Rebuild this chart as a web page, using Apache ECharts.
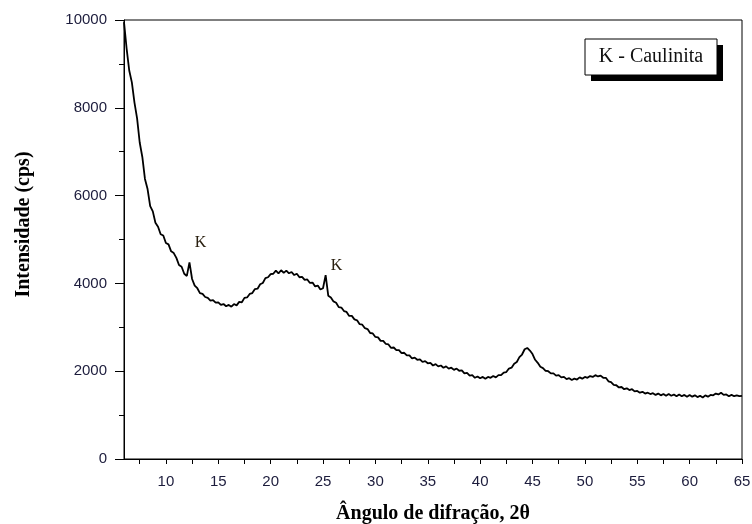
<!DOCTYPE html>
<html>
<head>
<meta charset="utf-8">
<script src="https://cdn.jsdelivr.net/npm/echarts@6/dist/echarts.min.js"></script>
<style>
html, body { margin: 0; padding: 0; background: #fff; }
#chart { width: 752px; height: 524px; }
</style>
</head>
<body>
<div id="chart"></div>
<script>
// angulo 2theta (passo 0.25)
var angulos = [
	6, 6.25, 6.5, 6.75, 7, 7.25, 7.5, 7.75, 8, 8.25, 8.5, 8.75, 9, 9.25, 9.5, 9.75,
	10, 10.25, 10.5, 10.75, 11, 11.25, 11.5, 11.75, 12, 12.25, 12.5, 12.75, 13, 13.25, 13.5, 13.75,
	14, 14.25, 14.5, 14.75, 15, 15.25, 15.5, 15.75, 16, 16.25, 16.5, 16.75, 17, 17.25, 17.5, 17.75,
	18, 18.25, 18.5, 18.75, 19, 19.25, 19.5, 19.75, 20, 20.25, 20.5, 20.75, 21, 21.25, 21.5, 21.75,
	22, 22.25, 22.5, 22.75, 23, 23.25, 23.5, 23.75, 24, 24.25, 24.5, 24.75, 25, 25.25, 25.5, 25.75,
	26, 26.25, 26.5, 26.75, 27, 27.25, 27.5, 27.75, 28, 28.25, 28.5, 28.75, 29, 29.25, 29.5, 29.75,
	30, 30.25, 30.5, 30.75, 31, 31.25, 31.5, 31.75, 32, 32.25, 32.5, 32.75, 33, 33.25, 33.5, 33.75,
	34, 34.25, 34.5, 34.75, 35, 35.25, 35.5, 35.75, 36, 36.25, 36.5, 36.75, 37, 37.25, 37.5, 37.75,
	38, 38.25, 38.5, 38.75, 39, 39.25, 39.5, 39.75, 40, 40.25, 40.5, 40.75, 41, 41.25, 41.5, 41.75,
	42, 42.25, 42.5, 42.75, 43, 43.25, 43.5, 43.75, 44, 44.25, 44.5, 44.75, 45, 45.25, 45.5, 45.75,
	46, 46.25, 46.5, 46.75, 47, 47.25, 47.5, 47.75, 48, 48.25, 48.5, 48.75, 49, 49.25, 49.5, 49.75,
	50, 50.25, 50.5, 50.75, 51, 51.25, 51.5, 51.75, 52, 52.25, 52.5, 52.75, 53, 53.25, 53.5, 53.75,
	54, 54.25, 54.5, 54.75, 55, 55.25, 55.5, 55.75, 56, 56.25, 56.5, 56.75, 57, 57.25, 57.5, 57.75,
	58, 58.25, 58.5, 58.75, 59, 59.25, 59.5, 59.75, 60, 60.25, 60.5, 60.75, 61, 61.25, 61.5, 61.75,
	62, 62.25, 62.5, 62.75, 63, 63.25, 63.5, 63.75, 64, 64.25, 64.5, 64.75, 65
];
var intensidade = [
	9950, 9350, 8850, 8580, 8120, 7760, 7210, 6880, 6380, 6150, 5760, 5640, 5380, 5290, 5120, 5090,
	4920, 4890, 4730, 4690, 4580, 4420, 4380, 4220, 4170, 4480, 4100, 3950, 3890, 3780, 3760, 3690,
	3670, 3610, 3620, 3560, 3570, 3510, 3530, 3480, 3510, 3470, 3530, 3500, 3580, 3570, 3670, 3680,
	3760, 3780, 3870, 3880, 3980, 4010, 4120, 4140, 4210, 4220, 4290, 4230, 4300, 4240, 4290, 4230,
	4260, 4190, 4220, 4140, 4150, 4080, 4090, 4010, 4020, 3930, 3950, 3860, 3890, 4190, 3720, 3680,
	3590, 3560, 3460, 3450, 3370, 3350, 3260, 3260, 3180, 3160, 3070, 3060, 2980, 2960, 2870, 2860,
	2780, 2770, 2690, 2690, 2620, 2610, 2530, 2540, 2480, 2480, 2410, 2420, 2360, 2360, 2290, 2310,
	2260, 2270, 2210, 2230, 2180, 2190, 2130, 2160, 2110, 2130, 2080, 2110, 2060, 2080, 2030, 2060,
	2010, 2020, 1950, 1960, 1900, 1910, 1850, 1880, 1840, 1870, 1830, 1870, 1850, 1890, 1860, 1910,
	1910, 1970, 1980, 2060, 2080, 2170, 2210, 2320, 2380, 2500, 2530, 2470, 2390, 2260, 2190, 2100,
	2070, 2010, 2000, 1950, 1950, 1900, 1910, 1860, 1870, 1820, 1840, 1800, 1830, 1810, 1860, 1830,
	1870, 1850, 1890, 1870, 1910, 1880, 1900, 1850, 1850, 1770, 1750, 1690, 1680, 1630, 1640, 1590,
	1610, 1570, 1590, 1540, 1550, 1510, 1530, 1490, 1510, 1480, 1500, 1460, 1490, 1450, 1480, 1440,
	1480, 1440, 1470, 1430, 1470, 1430, 1460, 1420, 1460, 1420, 1450, 1410, 1440, 1400, 1450, 1420,
	1460, 1450, 1490, 1470, 1510, 1460, 1470, 1430, 1460, 1430, 1450, 1430, 1440
];
// rotulos K (caulinita)
var picosK = [[13.3, 4920], [26.3, 4400]];
var xLabels = [10, 15, 20, 25, 30, 35, 40, 45, 50, 55, 60, 65];
var xTicks = [7.5, 10, 12.5, 15, 17.5, 20, 22.5, 25, 27.5, 30, 32.5, 35, 37.5, 40, 42.5, 45, 47.5, 50, 52.5, 55, 57.5, 60, 62.5, 65];

var dados = [];
for (var i = 0; i < angulos.length; i++) {
	dados.push([angulos[i], intensidade[i]]);
}

var myChart = echarts.init(document.getElementById('chart'));
var option = {
	backgroundColor: '#fff',
	animation: false,
	grid: {
		top: 20,
		left: 124,
		right: 10,
		bottom: 65,
		show: true,
		borderColor: '#000',
		borderWidth: 1,
		containLabel: false,
		outerBoundsMode: 'none'
	},
	xAxis: {
		type: 'value',
		min: 6,
		max: 65,
		name: 'Ângulo de difração, 2θ',
		nameLocation: 'middle',
		nameGap: 45,
		nameTextStyle: {
			fontFamily: 'Liberation Serif',
			fontWeight: 'bold',
			fontSize: 20,
			color: '#000'
		},
		axisLine: { show: true, onZero: false, lineStyle: { color: '#000', width: 1 } },
		axisTick: { show: true, length: 5, customValues: xTicks, lineStyle: { color: '#000' } },
		axisLabel: {
			customValues: xLabels,
			margin: 15,
			fontFamily: 'Liberation Sans',
			fontSize: 15,
			color: '#1c1c3c'
		},
		splitLine: { show: false }
	},
	yAxis: {
		type: 'value',
		min: 0,
		max: 10000,
		interval: 2000,
		name: 'Intensidade (cps)',
		nameLocation: 'middle',
		nameGap: 90,
		nameTextStyle: {
			fontFamily: 'Liberation Serif',
			fontWeight: 'bold',
			fontSize: 20,
			color: '#000',
			padding: [0, 0, 0, 30]
		},
		axisLine: { show: true, lineStyle: { color: '#000', width: 1 } },
		axisTick: { show: true, length: 9, lineStyle: { color: '#000' } },
		minorTick: { show: true, splitNumber: 2, length: 5, lineStyle: { color: '#000' } },
		axisLabel: {
			margin: 17,
			fontFamily: 'Liberation Sans',
			fontSize: 15,
			color: '#1c1c3c',
			formatter: function (v) { return String(v); }
		},
		splitLine: { show: false }
	},
	series: [{
		type: 'line',
		data: dados,
		showSymbol: false,
		lineStyle: { color: '#000', width: 1.8 },
		markPoint: {
			symbol: 'circle',
			symbolSize: 0,
			label: {
				show: true,
				formatter: 'K',
				fontFamily: 'Liberation Serif',
				fontSize: 16,
				color: '#2a2010'
			},
			data: [
				{ coord: picosK[0] },
				{ coord: picosK[1] }
			]
		}
	}],
	graphic: [
		{ type: 'rect', shape: { x: 591, y: 45, width: 132, height: 36 }, style: { fill: '#000' } },
		{ type: 'rect', shape: { x: 585, y: 39, width: 132, height: 36 }, style: { fill: '#fff', stroke: '#000', lineWidth: 1 } },
		{ type: 'text', x: 651, y: 57, style: { text: 'K - Caulinita', fontFamily: 'Liberation Serif', fontSize: 20, fill: '#111', align: 'center', verticalAlign: 'middle' } }
	]
};
myChart.setOption(option);
</script>
</body>
</html>
